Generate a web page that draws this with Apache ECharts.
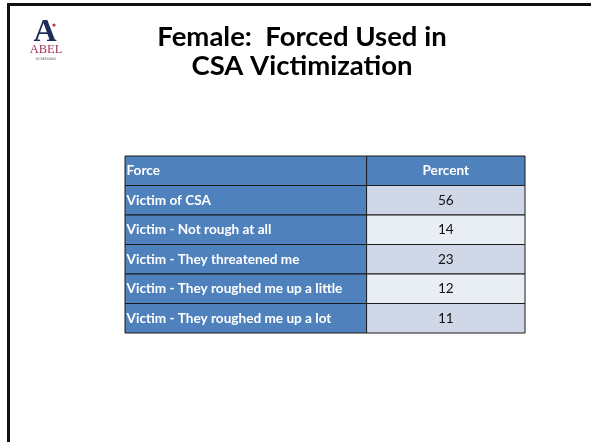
<!DOCTYPE html>
<html>
<head>
<meta charset="utf-8">
<script src="https://cdn.jsdelivr.net/npm/echarts@6/dist/echarts.min.js"></script>
<style>
  html, body { margin: 0; padding: 0; background: #fff; }
  #chart { width: 591px; height: 442px; }
</style>
</head>
<body>
<div id="chart"></div>
<script>
  // table content
  var headers = ['Force', 'Percent'];
  var forces = [
    'Victim of CSA',
    'Victim - Not rough at all',
    'Victim - They threatened me',
    'Victim - They roughed me up a little',
    'Victim - They roughed me up a lot'
  ];
  var percents = [56, 14, 23, 12, 11];

  var rows = [headers[0]].concat(forces);
  var colSplit = 60.4; // left column width, percent of the table

  var myChart = echarts.init(document.getElementById('chart'));

  function renderCell(params, api) {
    var i = api.value(0);
    var c = api.coord([0, i]);
    var end = api.coord([100, i]);
    var mid = api.coord([colSplit, i]);
    var h = api.size([0, 1])[1];
    var top = c[1] - h / 2;
    var isHead = i === 0;
    var rightFill = isHead ? '#4F81BD' : (i % 2 === 1 ? '#D0D8E8' : '#E9EDF4');
    return {
      type: 'group',
      children: [
        { type: 'rect', shape: { x: c[0], y: top, width: mid[0] - c[0], height: h },
          style: { fill: '#4F81BD', stroke: '#1b1b1b', lineWidth: 1 } },
        { type: 'rect', shape: { x: mid[0], y: top, width: end[0] - mid[0], height: h },
          style: { fill: rightFill, stroke: '#1b1b1b', lineWidth: 1 } },
        { type: 'text', x: c[0] + 1.5, y: c[1],
          style: { text: rows[i], fill: '#fff', fontWeight: 'bold', fontFamily: 'Lato', fontSize: 13.6,
                   verticalAlign: 'middle', align: 'left' } },
        { type: 'text', x: (mid[0] + end[0]) / 2, y: c[1],
          style: { text: isHead ? headers[1] : String(percents[i - 1]),
                   fill: isHead ? '#fff' : '#111', fontWeight: isHead ? 'bold' : 'normal',
                   fontFamily: 'Lato', fontSize: 13.6, verticalAlign: 'middle', align: 'center' } }
      ]
    };
  }

  var option = {
    animation: false,
    grid: { left: 125, top: 156, width: 400, height: 177 },
    xAxis: { type: 'value', min: 0, max: 100, show: false },
    yAxis: { type: 'category', data: rows, inverse: true, show: false },
    graphic: [
      // slide frame
      { type: 'line', shape: { x1: 7, y1: 4.5, x2: 591, y2: 4.5 }, style: { stroke: '#111', lineWidth: 3 } },
      { type: 'line', shape: { x1: 8.5, y1: 3, x2: 8.5, y2: 442 }, style: { stroke: '#111', lineWidth: 3 } },
      // logo
      { type: 'text', x: 45, y: 33, style: { text: 'A', fill: '#1d2d57', font: 'bold 32px "Liberation Serif"',
          align: 'center', verticalAlign: 'middle' } },
      { type: 'circle', shape: { cx: 54, cy: 25, r: 1.6 }, style: { fill: '#b2324f' } },
      { type: 'text', x: 46, y: 50, style: { text: 'ABEL', fill: '#a3345e', font: '12.5px "Liberation Serif"',
          align: 'center', verticalAlign: 'middle' } },
      { type: 'text', x: 46, y: 59, style: { text: 'SCREENING', fill: '#555', font: '3.5px "DejaVu Sans"',
          align: 'center', verticalAlign: 'middle' } },
      // title
      { type: 'text', x: 302, y: 37, style: { text: 'Female:  Forced Used in', fill: '#000',
          font: 'bold 27.5px Lato', align: 'center', verticalAlign: 'middle' } },
      { type: 'text', x: 302, y: 66, style: { text: 'CSA Victimization', fill: '#000',
          font: 'bold 27.5px Lato', align: 'center', verticalAlign: 'middle' } }
    ],
    series: [{
      type: 'custom',
      renderItem: renderCell,
      data: rows.map(function (r, i) { return [i]; }),
      encode: { y: 0 }
    }]
  };
  myChart.setOption(option);
</script>
</body>
</html>
